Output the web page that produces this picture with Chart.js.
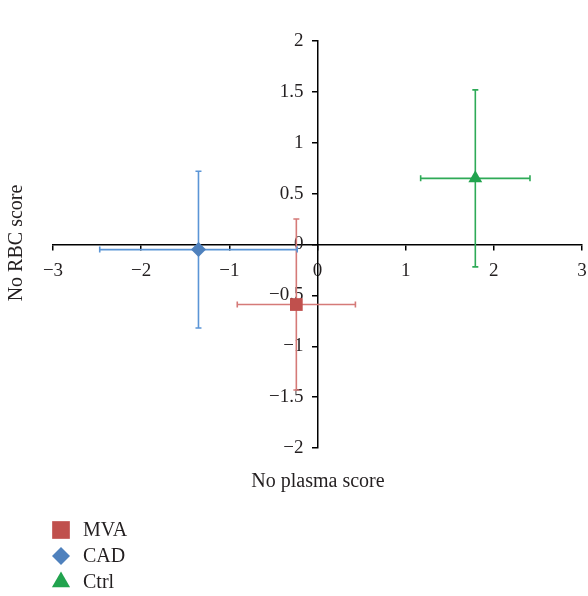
<!DOCTYPE html>
<html>
<head>
<meta charset="utf-8">
<script src="https://cdn.jsdelivr.net/npm/chart.js@4.4.0/dist/chart.umd.min.js"></script>
<style>
  html, body { margin: 0; padding: 0; background: #fff; }
  #wrap { width: 588px; height: 596px; position: relative; }
</style>
</head>
<body>
<div id="wrap"><canvas id="graphique"></canvas></div>
<script>
// groupes et valeurs
const groupes = ["MVA", "CAD", "Ctrl"];
const moyennesX = [-0.24, -1.35, 1.79];
const moyennesY = [-0.59, -0.05, 0.65];
const erreursX = [0.67, 1.12, 0.62];
const erreursY = [0.84, 0.77, 0.87];

const couleurs = ["#C0504D", "#4F81BD", "#21A34E"];
const couleursBarres = ["#D57A78", "#5B95D6", "#2EAA57"];
const formes = ["rect", "rectRot", "triangle"];
const tailles = [9, 7.5, 8];
const taillesLegende = [12.5, 9, 10.5];

const police = "'Liberation Serif', 'Times New Roman', serif";

function moins(v) {
    let s = String(Math.round(v * 10) / 10);
    return s.replace("-", "\u2212");
}

// les axes ne réservent aucune place : la zone est fixée par layout.padding
function sansPlace(s) {
    if (s.axis === "x") s.height = 0; else s.width = 0;
    s.paddingLeft = 0; s.paddingRight = 0; s.paddingTop = 0; s.paddingBottom = 0;
}

// barres d'erreur dessinées avant les points
const barresErreur = {
    id: "barresErreur",
    beforeDatasetsDraw(chart) {
        const ctx = chart.ctx;
        const sx = chart.scales.x;
        const sy = chart.scales.y;
        const cap = 3;
        ctx.save();
        ctx.lineWidth = 1.6;
        for (let i = 0; i < groupes.length; i++) {
            const px = sx.getPixelForValue(moyennesX[i]);
            const py = sy.getPixelForValue(moyennesY[i]);
            const x1 = sx.getPixelForValue(moyennesX[i] - erreursX[i]);
            const x2 = sx.getPixelForValue(moyennesX[i] + erreursX[i]);
            const y1 = sy.getPixelForValue(moyennesY[i] + erreursY[i]);
            const y2 = sy.getPixelForValue(moyennesY[i] - erreursY[i]);
            ctx.strokeStyle = couleursBarres[i];
            ctx.beginPath();
            ctx.moveTo(x1, py); ctx.lineTo(x2, py);
            ctx.moveTo(x1, py - cap); ctx.lineTo(x1, py + cap);
            ctx.moveTo(x2, py - cap); ctx.lineTo(x2, py + cap);
            ctx.moveTo(px, y1); ctx.lineTo(px, y2);
            ctx.moveTo(px - cap, y1); ctx.lineTo(px + cap, y1);
            ctx.moveTo(px - cap, y2); ctx.lineTo(px + cap, y2);
            ctx.stroke();
        }
        ctx.restore();
    }
};

// titres des axes + légende verticale en bas à gauche
const textes = {
    id: "textes",
    afterDraw(chart) {
        const ctx = chart.ctx;
        ctx.save();
        ctx.fillStyle = "#231F20";
        ctx.font = "20px " + police;
        ctx.textAlign = "center";
        ctx.textBaseline = "middle";
        ctx.fillText("No plasma score", 318, 482);

        ctx.save();
        ctx.translate(17, 243);
        ctx.rotate(-Math.PI / 2);
        ctx.fillText("No RBC score", 0, 0);
        ctx.restore();

        ctx.textAlign = "left";
        const lignes = [530, 556, 582];
        for (let i = 0; i < groupes.length; i++) {
            ctx.fillStyle = couleurs[i];
            ctx.strokeStyle = couleurs[i];
            Chart.helpers.drawPoint(ctx, { pointStyle: formes[i], radius: taillesLegende[i], rotation: 0, borderWidth: 0 }, 61, lignes[i]);
            ctx.fillStyle = "#231F20";
            ctx.fillText(groupes[i], 83, lignes[i] + 1);
        }
        ctx.restore();
    }
};

const datasets = [];
for (let i = 0; i < groupes.length; i++) {
    datasets.push({
        label: groupes[i],
        data: [{ x: moyennesX[i], y: moyennesY[i] }],
        pointStyle: formes[i],
        pointRadius: tailles[i],
        pointHoverRadius: tailles[i],
        backgroundColor: couleurs[i],
        borderColor: couleurs[i],
        borderWidth: 0
    });
}

const config = {
    type: "scatter",
    data: { datasets: datasets },
    options: {
        responsive: true,
        maintainAspectRatio: false,
        animation: false,
        // autoPadding coupé sinon le rayon des points (9px) s'ajoute à droite
        layout: { autoPadding: false, padding: { left: 53, right: 6, top: 41, bottom: 148 } },
        plugins: { legend: { display: false }, tooltip: { enabled: false } },
        scales: {
            // axe x posé sur y = 0, axe y au centre (plage x symétrique)
            x: {
                type: "linear",
                position: { y: 0 },
                min: -3, max: 3,
                afterFit: sansPlace,
                ticks: { stepSize: 1, color: "#231F20", font: { family: police, size: 19 }, padding: 10, callback: v => moins(v) },
                grid: { drawOnChartArea: false, drawTicks: true, tickLength: 5, color: "#000", lineWidth: 1.5 },
                border: { color: "#000", width: 1.5 }
            },
            y: {
                type: "linear",
                position: "center",
                min: -2, max: 2,
                afterFit: sansPlace,
                ticks: { stepSize: 0.5, color: "#231F20", font: { family: police, size: 19 }, padding: 9, callback: v => moins(v) },
                grid: { drawOnChartArea: false, drawTicks: true, tickLength: 5, color: "#000", lineWidth: 1.5 },
                border: { color: "#000", width: 1.5 }
            }
        }
    },
    plugins: [barresErreur, textes]
};

new Chart(document.querySelector("#graphique"), config);
</script>
</body>
</html>
